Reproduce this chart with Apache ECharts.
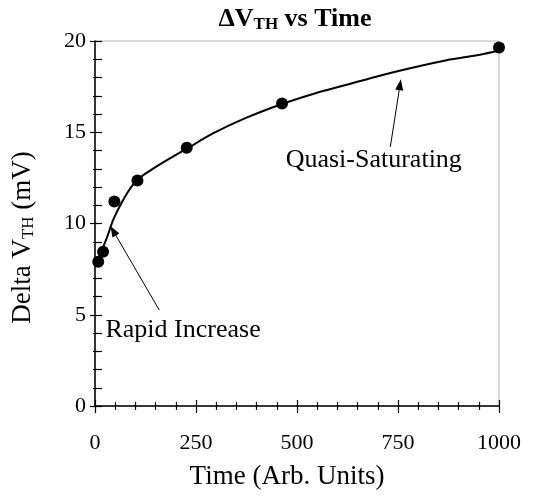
<!DOCTYPE html>
<html>
<head>
<meta charset="utf-8">
<script src="https://cdn.jsdelivr.net/npm/echarts@6/dist/echarts.min.js"></script>
<style>
  html, body { margin: 0; padding: 0; background: #fff; }
  #chart { width: 535px; height: 500px; }
</style>
</head>
<body>
<div id="chart"></div>
<script>
// measured points
var times = [8, 20, 48, 105, 227, 463, 1000];
var deltaVth = [7.9, 8.45, 11.2, 12.35, 14.15, 16.58, 19.65];

// trend curve
var fitTimes = [10, 20, 30, 45, 65, 85, 105, 140, 180, 227, 293, 375, 463, 540, 623, 705, 788, 870, 953, 1000];
var fitValues = [8.2, 8.7, 9.25, 10.2, 11.1, 11.85, 12.4, 12.95, 13.5, 14.1, 14.95, 15.8, 16.55, 17.1, 17.6, 18.1, 18.55, 18.95, 19.25, 19.48];

// annotations: text position, arrow tail, arrow tip (data units)
var noteNames = ['Quasi-Saturating', 'Rapid Increase'];
var notePos = [[690, 13.48], [218, 4.16]];
var arrowFrom = [[731, 14.2], [159, 5.26]];
var arrowTo = [[755, 17.6], [45, 9.6]];

var font = 'Liberation Serif';

var chart = echarts.init(document.getElementById('chart'));

chart.setOption({
  animation: false,
  textStyle: { fontFamily: font, color: '#000' },
  title: {
    text: '{b|ΔV}{s|TH}{b| vs Time}',
    left: 290,
    top: 0,
    textAlign: 'center',
    textStyle: {
      rich: {
        b: { fontFamily: font, fontWeight: 'bold', fontSize: 26, color: '#000' },
        s: { fontFamily: font, fontWeight: 'bold', fontSize: 17, color: '#000', verticalAlign: 'bottom', padding: [11, 0, 0, 0] }
      }
    }
  },
  grid: {
    left: 95, right: 36, top: 41, bottom: 94,
    show: true, borderColor: '#b5b5b5', borderWidth: 1
  },
  xAxis: [{
    type: 'value', min: 0, max: 1000, interval: 250,
    name: 'Time (Arb. Units)', nameLocation: 'middle', nameGap: 57,
    nameTextStyle: { fontFamily: font, fontSize: 27, color: '#000', padding: [0, 20, 0, 0] },
    axisLine: { lineStyle: { color: '#000', width: 1.5 } },
    axisTick: { inside: true, length: 6, lineStyle: { color: '#000', width: 1.2 } },
    minorTick: { show: true, splitNumber: 5, length: 4, lineStyle: { color: '#000', width: 1.2 } },
    axisLabel: {
      fontFamily: font, fontSize: 22, color: '#000', margin: 26,
      formatter: function (v) { return String(v); }
    },
    splitLine: { show: false }
  }, {
    type: 'value', min: 0, max: 1000, interval: 250, position: 'bottom',
    axisLine: { show: false },
    axisTick: { inside: false, length: 7, lineStyle: { color: '#000', width: 1.2 } },
    minorTick: { show: true, splitNumber: 5, length: 4, lineStyle: { color: '#000', width: 1.2 } },
    axisLabel: { show: false },
    splitLine: { show: false }
  }],
  yAxis: [{
    type: 'value', min: 0, max: 20, interval: 5,
    name: '{n|Delta V}{s|TH}{n| (mV)}', nameLocation: 'middle', nameGap: 58,
    nameTextStyle: {
      padding: [0, 28, 0, 0],
      rich: {
        n: { fontFamily: font, fontSize: 27, color: '#000' },
        s: { fontFamily: font, fontSize: 17, color: '#000', verticalAlign: 'bottom', padding: [11, 0, 0, 0] }
      }
    },
    axisLine: { lineStyle: { color: '#000', width: 1.5 } },
    axisTick: { inside: true, length: 7, lineStyle: { color: '#000', width: 1.2 } },
    minorTick: { show: true, splitNumber: 5, length: 7, lineStyle: { color: '#000', width: 1.2 } },
    axisLabel: { fontFamily: font, fontSize: 22, color: '#000', margin: 9 },
    splitLine: { show: false }
  }, {
    type: 'value', min: 0, max: 20, interval: 5, position: 'left',
    axisLine: { show: false },
    axisTick: { inside: false, length: 5, lineStyle: { color: '#000', width: 1.2 } },
    minorTick: { show: true, splitNumber: 5, length: 2, lineStyle: { color: '#000', width: 1.2 } },
    axisLabel: { show: false },
    splitLine: { show: false }
  }],
  series: [{
    name: 'fit',
    type: 'line',
    smooth: 0.3,
    symbol: 'none',
    lineStyle: { color: '#000', width: 2 },
    data: fitTimes.map(function (t, i) { return [t, fitValues[i]]; }),
    z: 2
  }, {
    name: 'data',
    type: 'scatter',
    symbolSize: 12,
    itemStyle: { color: '#000', opacity: 1 },
    data: times.map(function (t, i) { return [t, deltaVth[i]]; }),
    z: 3
  }, {
    name: 'notes',
    type: 'scatter',
    symbolSize: 0,
    itemStyle: { color: '#000', opacity: 1 },
    label: {
      show: true, position: 'inside', fontFamily: font, fontSize: 26, color: '#000',
      textBorderWidth: 0, opacity: 1,
      formatter: function (p) { return p.name; }
    },
    data: noteNames.map(function (n, i) { return { name: n, value: notePos[i] }; }),
    markLine: {
      silent: true,
      symbol: ['none', 'triangle'],
      symbolSize: [8, 11],
      label: { show: false },
      lineStyle: { color: '#000', width: 1, type: 'solid' },
      data: arrowFrom.map(function (f, i) {
        return [{ coord: f }, { coord: arrowTo[i] }];
      })
    }
  }]
});
</script>
</body>
</html>
